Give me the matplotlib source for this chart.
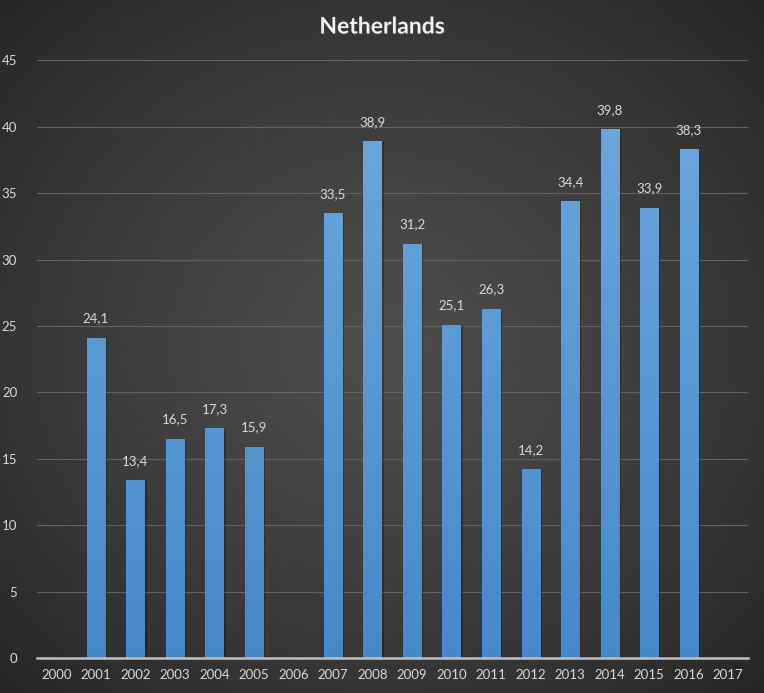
import numpy as np
import matplotlib
matplotlib.use("Agg")
import matplotlib.pyplot as plt
import matplotlib.patheffects as pe

years = [str(y) for y in range(2000, 2018)]
values = [None, 24.1, 13.4, 16.5, 17.3, 15.9, None, 33.5, 38.9, 31.2,
          25.1, 26.3, 14.2, 34.4, 39.8, 33.9, 38.3, None]
title = "Netherlands"

plt.rcParams['font.family'] = ['Lato', 'DejaVu Sans']

fig = plt.figure(figsize=(7.64, 6.93), dpi=100)

# radial background
bg = fig.add_axes([0, 0, 1, 1], zorder=0)
yy, xx = np.mgrid[-1:1:400j, -1:1:400j]
r = np.sqrt(xx**2 + yy**2) / np.sqrt(2)
shade = 0.30 - 0.15 * r**1.3
bg.imshow(np.dstack([shade] * 3), extent=[0, 1, 0, 1], aspect='auto')
bg.axis('off')

ax = fig.add_axes([0.048, 0.0505, 0.931, 0.8625], zorder=1)
ax.patch.set_alpha(0)

x = np.arange(len(years))
h = np.array([v if v is not None else 0 for v in values])
width = 0.46

# soft shadow behind bars
ax.bar(x + 0.05, h, width, color='black', alpha=0.25, zorder=2)
bars = ax.bar(x, h, width, color='#5b9bd5', zorder=3)

grad = np.linspace(0, 1, 256).reshape(-1, 1)
cmap = matplotlib.colors.LinearSegmentedColormap.from_list('b', ['#4689c9', '#70a9df'])
for b, v in zip(bars, values):
    if v is None:
        continue
    im = ax.imshow(grad, cmap=cmap, origin='lower', aspect='auto',
                   extent=[b.get_x(), b.get_x() + b.get_width(), 0, 45], zorder=3)
    im.set_clip_path(b)
    ax.text(b.get_x() + b.get_width() / 2, v + 1.0, f"{v:.1f}".replace('.', ','),
            ha='center', va='bottom', color='#d9d9d9', fontsize=9.5, zorder=4)

ax.set_xlim(-0.5, len(years) - 0.5)
ax.set_ylim(0, 45)
ax.set_yticks(range(0, 46, 5))
ax.set_xticks(x)
ax.set_xticklabels(years)
ax.tick_params(colors='#d9d9d9', labelsize=9.5, length=0)
ax.tick_params(axis='x', pad=8)
ax.tick_params(axis='y', pad=14)
ax.yaxis.grid(True, color='#626262', linewidth=0.8, zorder=1)
ax.set_axisbelow(True)
for s in ['top', 'right', 'left']:
    ax.spines[s].set_visible(False)
ax.spines['bottom'].set_color('#bfbfbf')
ax.spines['bottom'].set_linewidth(1.8)
ax.spines['bottom'].set_zorder(5)

fig.text(0.5, 0.961, title, ha='center', va='center', color='#f2f2f2',
         fontsize=16.5, fontweight='bold',
         path_effects=[pe.withSimplePatchShadow(offset=(1, -1), alpha=0.5)])

fig.savefig('out.png', dpi=100)
